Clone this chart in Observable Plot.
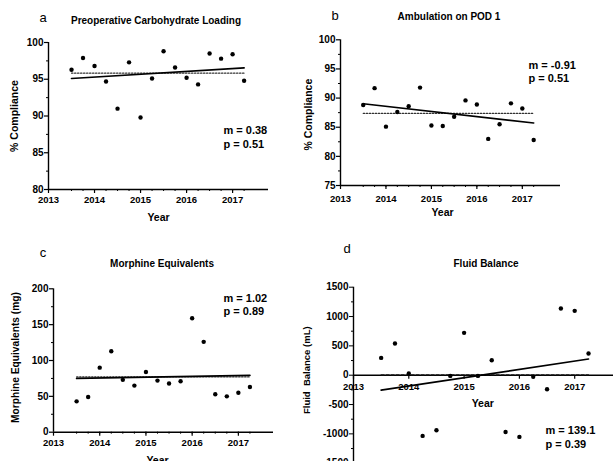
<!DOCTYPE html>
<html>
<head>
<meta charset="utf-8">
<script src="https://cdn.jsdelivr.net/npm/d3@7"></script>
<script src="https://cdn.jsdelivr.net/npm/@observablehq/plot@0.6"></script>
<style>
  html, body { margin: 0; padding: 0; background: #fff; }
  body { width: 613px; height: 461px; overflow: hidden; position: relative; font-family: "Liberation Sans", Arial, sans-serif; color: #000; }
  .panel { position: absolute; overflow: visible; }
  .panel svg { max-width: none !important; overflow: visible; }
  .lbl { position: absolute; transform: translate(-50%, -50%); white-space: nowrap; }
  .letter { font-size: 13px; }
  .title { font-size: 10px; font-weight: bold; }
</style>
</head>
<body>
<script>
// ---- data ----
const years = [2013.5, 2013.75, 2014, 2014.25, 2014.5, 2014.75, 2015, 2015.25,
               2015.5, 2015.75, 2016, 2016.25, 2016.5, 2016.75, 2017, 2017.25];
const carbLoading = [96.3, 97.9, 96.8, 94.7, 91.0, 97.3, 89.8, 95.1, 98.8, 96.6, 95.2, 94.3, 98.5, 97.8, 98.4, 94.8];
const ambulation  = [88.8, 91.7, 85.1, 87.6, 88.6, 91.8, 85.3, 85.2, 86.8, 89.6, 88.9, 83.0, 85.5, 89.1, 88.2, 82.8];
const morphine    = [43, 49, 90, 113, 73, 65, 84, 72, 68, 71, 159, 126, 53, 50, 55, 63];
const fluid       = [295, 541, 29, -1035, -938, -12, 722, -12, 256, -967, -1052, -28, -239, 1138, 1097, 370];

const xTicks = [2013, 2014, 2015, 2016, 2017];
const compTicksA = [80, 85, 90, 95, 100];
const compTicksB = [75, 80, 85, 90, 95, 100];
const morphTicks = [0, 50, 100, 150, 200];
const fluidTicks = [-1500, -1000, -500, 0, 500, 1000, 1500];

const panelLetters = ["a", "b", "c", "d"];
const panelTitles = ["Preoperative Carbohydrate Loading", "Ambulation on POD 1", "Morphine Equivalents", "Fluid Balance"];
const yLabels = ["% Compliance", "% Compliance", "Morphine Equivalents (mg)", "Fluid  Balance (mL)"];
const slopes = ["0.38", "-0.91", "1.02", "139.1"];
const pValues = ["0.51", "0.51", "0.89", "0.39"];

const FONT = "'Liberation Sans', Arial, sans-serif";
const root = document.body;

function addLabel(text, cls, x, y) {
  const d = document.createElement("div");
  d.className = "lbl " + cls;
  d.textContent = text;
  d.style.left = x + "px";
  d.style.top = y + "px";
  root.appendChild(d);
}

function place(chart, left, top, width, height) {
  const holder = document.createElement("div");
  holder.className = "panel";
  holder.style.left = left + "px";
  holder.style.top = top + "px";
  holder.style.width = width + "px";
  holder.style.height = height + "px";
  holder.appendChild(chart);
  root.appendChild(holder);
}

function rows(values) { return years.map((x, i) => ({year: x, value: values[i]})); }

function commonMarks(data, cfg) {
  const mean = d3.mean(data, d => d.value);
  return [
    Plot.lineY(data, {x: "year", y: () => mean, stroke: "#333", strokeWidth: 1.1, strokeDasharray: cfg.dash}),
    Plot.linearRegressionY(data, {x: "year", y: "value", ci: 0, stroke: "#000", strokeWidth: 1.7}),
    Plot.dot(data, {x: "year", y: "value", r: 2.2, fill: "#000"}),
    Plot.text([`m = ${cfg.m}\np = ${cfg.p}`], {frameAnchor: "top-left", dx: cfg.adx, dy: cfg.ady, textAnchor: "start",
      lineAnchor: "top", lineHeight: 1.25, fontSize: 11, fontWeight: "bold", fill: "#000"}),
    Plot.text([cfg.ylabel], {frameAnchor: "left", rotate: -90, dx: cfg.ydx, dy: cfg.ydy, textAnchor: "middle", lineAnchor: "middle",
      fontSize: cfg.yfs, fontWeight: "bold", fill: "#000"})
  ];
}

function standardPanel(i, values, cfg) {
  const data = rows(values);
  const chart = Plot.plot({
    width: cfg.width, height: cfg.height,
    marginLeft: cfg.ml, marginRight: cfg.mr, marginTop: cfg.mt, marginBottom: cfg.mb,
    style: {fontFamily: FONT, fontSize: "9.5px", fontWeight: "bold", background: "transparent", color: "#000", maxWidth: "none", overflow: "visible"},
    x: {domain: cfg.xDomain, label: null},
    y: {domain: cfg.yDomain, label: null},
    marks: [
      Plot.axisY({ticks: cfg.yTicks, tickSize: 4, tickPadding: 1, tickFormat: d => String(d), label: null, fontSize: 10, strokeWidth: 1.2}),
      Plot.axisY({ticks: cfg.yMinor, tickSize: 2, tickFormat: () => "", label: null}),
      Plot.axisX({ticks: xTicks, tickSize: 4, tickPadding: cfg.xpad, tickFormat: d => String(d), label: null, fontSize: 9.5, strokeWidth: 1.2}),
      Plot.axisX({ticks: years, tickSize: 2, tickFormat: () => "", label: null}),
      Plot.ruleX([cfg.xDomain[0]], {stroke: "#000", strokeWidth: 1.4}),
      Plot.ruleY([cfg.yDomain[0]], {stroke: "#000", strokeWidth: 1.4}),
      ...commonMarks(data, {...cfg, m: slopes[i], p: pValues[i], ylabel: yLabels[i]}),
      Plot.text(["Year"], {frameAnchor: "bottom", dx: cfg.yearDx, dy: cfg.yearDy, lineAnchor: "middle", fontSize: 10.5, fontWeight: "bold", fill: "#000"})
    ]
  });
  place(chart, cfg.left, cfg.top, cfg.width, cfg.height);
}

// Panel a
standardPanel(0, carbLoading, {
  left: 0, top: 25, width: 300, height: 200, ml: 48, mr: 32, mt: 17, mb: 36,
  xDomain: [2013, 2017.78], yDomain: [80, 100], yTicks: compTicksA, yMinor: [82.5, 87.5, 92.5, 97.5],
  xpad: 3, adx: 175, ady: 82, ydx: -34, ydy: 0, yfs: 10.5, yearDx: 0, yearDy: 28, dash: "1.5,1.5"
});
// Panel b
standardPanel(1, ambulation, {
  left: 300, top: 25, width: 300, height: 200, ml: 40, mr: 40, mt: 14.3, mb: 40,
  xDomain: [2013, 2017.84], yDomain: [75, 100], yTicks: compTicksB, yMinor: [77.5, 82.5, 87.5, 92.5, 97.5],
  xpad: 6, adx: 188, ady: 19, ydx: -32, ydy: 2, yfs: 10.5, yearDx: -8, yearDy: 27, dash: "1.5,1.5"
});
// Panel c
standardPanel(2, morphine, {
  left: 0, top: 270, width: 300, height: 200, ml: 53, mr: 27, mt: 18.3, mb: 38.3,
  xDomain: [2013, 2017.76], yDomain: [0, 200], yTicks: morphTicks, yMinor: [25, 75, 125, 175],
  xpad: 3, adx: 170, ady: 3, ydx: -38, ydy: -3, yfs: 10.2, yearDx: -6, yearDy: 28, dash: "1.5,1.5"
});

// Panel d (x axis drawn at y = 0)
(function () {
  const data = rows(fluid);
  const cfg = {adx: 192, ady: 137, ydx: -47, ydy: -5, yfs: 9.5, dash: "3,2"};
  const chart = Plot.plot({
    width: 330, height: 200,
    marginLeft: 53, marginRight: 0.5, marginTop: 16.7, marginBottom: 7.3,
    style: {fontFamily: FONT, fontSize: "9.5px", fontWeight: "bold", background: "transparent", color: "#000", maxWidth: "none", overflow: "visible"},
    x: {domain: [2013, 2018], label: null, axis: null},
    y: {domain: [-1500, 1500], label: null},
    marks: [
      Plot.axisY({ticks: fluidTicks, tickSize: 4, tickPadding: 1, tickFormat: d => String(d), label: null, fontSize: 10}),
      Plot.axisY({ticks: [-1250, -750, -250, 250, 750, 1250], tickSize: 2, tickFormat: () => "", label: null}),
      Plot.ruleX([2013], {stroke: "#000", strokeWidth: 1.4}),
      Plot.ruleY([0], {stroke: "#000", strokeWidth: 1.4}),
      Plot.ruleX(xTicks, {x: d => d, y1: 0, y2: -70, stroke: "#000", strokeWidth: 1.2}),
      Plot.text(xTicks, {x: d => d, y: 0, dy: 12, text: d => String(d), fontSize: 9.5, fontWeight: "bold", fill: "#000"}),
      ...commonMarks(data, {...cfg, m: slopes[3], p: pValues[3], ylabel: yLabels[3]}),
      Plot.text(["Year"], {frameAnchor: "middle", dx: -9, dy: 28, fontSize: 10.5, fontWeight: "bold", fill: "#000"})
    ]
  });
  place(chart, 300, 270, 330, 200);
})();

// Panel letters and titles
const letterPos = [[43, 17], [335, 15], [43, 252], [347, 248]];
const titlePos = [[156, 20], [449, 16], [162, 263], [486, 263]];
panelLetters.forEach((t, i) => addLabel(t, "letter", letterPos[i][0], letterPos[i][1]));
panelTitles.forEach((t, i) => addLabel(t, "title", titlePos[i][0], titlePos[i][1]));
</script>
</body>
</html>
